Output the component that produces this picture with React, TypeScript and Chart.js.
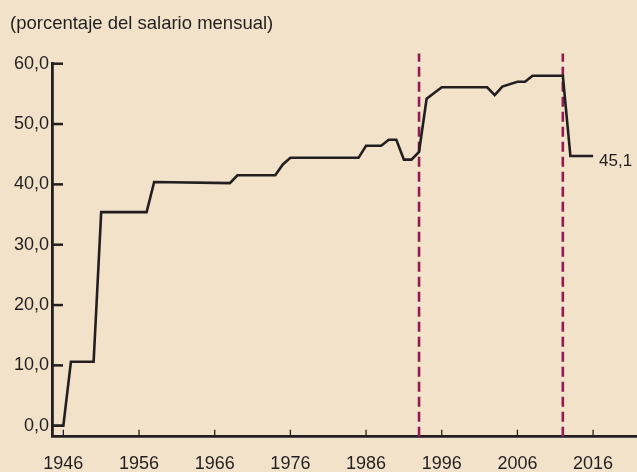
import React, { useEffect, useRef } from 'react';
import { Chart, registerables } from 'chart.js';

Chart.register(...registerables);

// ---- data ----
const years = [1944, 1946, 1947, 1950, 1951, 1957, 1958, 1968, 1969, 1974, 1975, 1976, 1985, 1986, 1988, 1989, 1990, 1991, 1992, 1993, 1994, 1996, 2002, 2003, 2004, 2006, 2007, 2008, 2012, 2013, 2016];
const values = [0, 0, 10.6, 10.6, 35.4, 35.4, 40.4, 40.2, 41.5, 41.5, 43.3, 44.4, 44.4, 46.4, 46.4, 47.4, 47.4, 44.1, 44.1, 45.4, 54.2, 56.1, 56.1, 54.8, 56.2, 57.0, 57.0, 58.0, 58.0, 44.7, 44.7];
const reformYears = [1993, 2012];
const xTickYears = [1946, 1956, 1966, 1976, 1986, 1996, 2006, 2016];
const yTickValues = [0, 10, 20, 30, 40, 50, 60];
const titleText = '(porcentaje del salario mensual)';
const endLabel = '45,1';

const X_MIN = 1944.5;
const X_MAX = 2021.8;
const Y_MIN = -1.82;
const Y_MAX = 60;
const REF_TOP = 61.7;

const INK = '#231F20';
const MAROON = '#921A55';
const BG = '#F1E2C9';
const FONT = '"Liberation Sans", Arial, Helvetica, sans-serif';

const decorPlugin = {
  id: 'decor',
  beforeDatasetsDraw(chart: any) {
    const { ctx, chartArea, scales } = chart;
    const x = scales.x;
    const y = scales.y;
    ctx.save();
    ctx.strokeStyle = INK;
    ctx.lineWidth = 2.5;
    yTickValues.forEach((v) => {
      const py = y.getPixelForValue(v);
      ctx.beginPath();
      ctx.moveTo(chartArea.left, py);
      ctx.lineTo(chartArea.left + 11, py);
      ctx.stroke();
    });
    ctx.lineWidth = 1.3;
    xTickYears.forEach((yr) => {
      const px = x.getPixelForValue(yr);
      ctx.beginPath();
      ctx.moveTo(px, chartArea.bottom);
      ctx.lineTo(px, chartArea.bottom - 7);
      ctx.stroke();
    });
    ctx.restore();
  },
  afterDatasetsDraw(chart: any) {
    const { ctx } = chart;
    const meta = chart.getDatasetMeta(0);
    const last = meta.data[meta.data.length - 1];
    if (!last) return;
    ctx.save();
    ctx.fillStyle = INK;
    ctx.font = `17px ${FONT}`;
    ctx.textAlign = 'left';
    ctx.textBaseline = 'middle';
    ctx.fillText(endLabel, last.x + 6, last.y + 5);
    ctx.restore();
  },
};

export default function App() {
  const canvasRef = useRef<HTMLCanvasElement | null>(null);

  useEffect(() => {
    const canvas = canvasRef.current;
    if (!canvas) return;
    const lineData = years.map((yr, i) => ({ x: yr, y: values[i] }));
    const refSets = reformYears.map((yr) => ({
      data: [
        { x: yr, y: Y_MIN },
        { x: yr, y: REF_TOP },
      ],
      borderColor: MAROON,
      borderWidth: 2.6,
      borderDash: [10, 5],
      pointRadius: 0,
      clip: false as any,
      fill: false,
    }));
    const chart = new Chart(canvas, {
      type: 'line',
      data: {
        datasets: [
          {
            data: lineData,
            borderColor: INK,
            borderWidth: 2.6,
            pointRadius: 0,
            tension: 0,
            fill: false,
          },
          ...refSets,
        ] as any,
      },
      options: {
        responsive: false,
        animation: false,
        layout: { padding: { left: 10, right: 0, top: 0, bottom: 0 } },
        plugins: {
          legend: { display: false },
          tooltip: { enabled: false },
          title: {
            display: true,
            text: titleText,
            align: 'start',
            color: INK,
            font: { family: FONT, size: 18.5, weight: 'normal' as any, lineHeight: 1.2 },
            padding: { top: 13, bottom: 28.5 },
          },
        },
        scales: {
          x: {
            type: 'linear',
            min: X_MIN,
            max: X_MAX,
            grid: { display: true, drawOnChartArea: false, drawTicks: false },
            border: { display: true, color: INK, width: 2.8 },
            afterBuildTicks: (s: any) => {
              s.ticks = xTickYears.map((v) => ({ value: v }));
            },
            afterFit: (s: any) => {
              s.height = 35.3;
            },
            ticks: {
              color: INK,
              font: { family: FONT, size: 18 },
              padding: 17,
              maxRotation: 0,
              autoSkip: false,
              callback: (v: any) => String(v),
            },
          },
          y: {
            type: 'linear',
            min: Y_MIN,
            max: Y_MAX,
            grid: { display: true, drawOnChartArea: false, drawTicks: false },
            border: { display: true, color: INK, width: 2.8 },
            afterBuildTicks: (s: any) => {
              s.ticks = yTickValues.map((v) => ({ value: v }));
            },
            afterFit: (s: any) => {
              s.width = 42;
            },
            ticks: {
              color: INK,
              font: { family: FONT, size: 18 },
              padding: 3,
              autoSkip: false,
              callback: (v: any) => Number(v).toFixed(1).replace('.', ','),
            },
          },
        },
      },
      plugins: [decorPlugin],
    });
    return () => chart.destroy();
  }, []);

  return (
    <div style={{ position: 'fixed', left: 0, top: 0, width: 637, height: 472, background: BG }}>
      <canvas ref={canvasRef} width={637} height={472} style={{ display: 'block', width: 637, height: 472 }} />
    </div>
  );
}
